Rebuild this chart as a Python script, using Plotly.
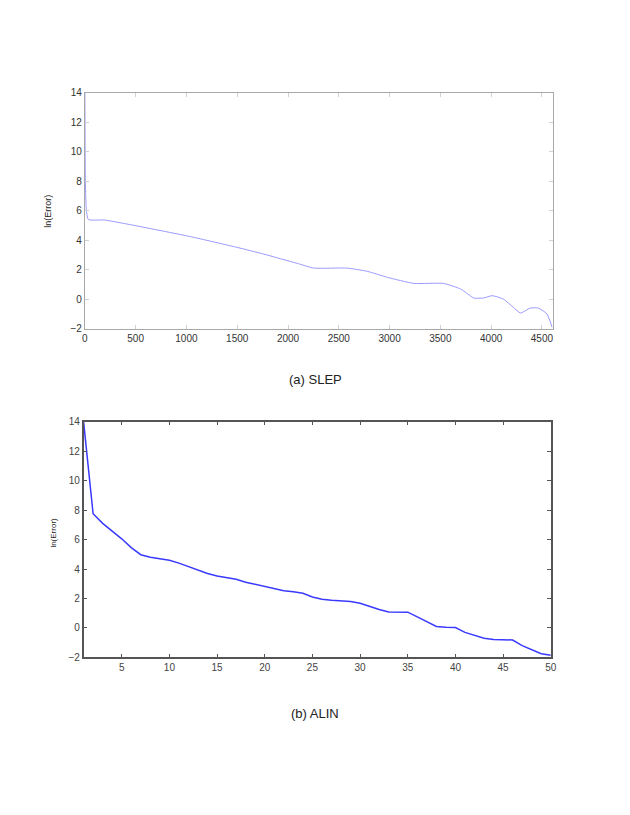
import plotly.graph_objects as go

# (a) SLEP: iteration vs ln(Error)
slep_iter = [0, 5, 15, 35, 190, 450, 1040, 1500, 1760, 2090, 2255, 2580, 2780,
             2980, 3240, 3530, 3700, 3830, 3925, 4010, 4120, 4220, 4290, 4385,
             4465, 4550, 4600]
slep_err = [14.0, 8.0, 6.0, 5.4, 5.37, 5.05, 4.24, 3.51, 3.06, 2.43, 2.11, 2.11,
            1.89, 1.48, 1.07, 1.07, 0.69, 0.08, 0.08, 0.24, 0.01, -0.56, -0.94,
            -0.6, -0.6, -1.0, -1.9]

# (b) ALIN: iteration vs ln(Error)
alin_iter = list(range(1, 51))
alin_err = [14.0, 7.75, 7.1, 6.6, 6.05, 5.45, 4.97, 4.8, 4.7, 4.6,
            4.4, 4.15, 3.9, 3.7, 3.52, 3.4, 3.3, 3.1, 2.95, 2.8,
            2.65, 2.53, 2.45, 2.35, 2.1, 1.95, 1.88, 1.83, 1.8, 1.67,
            1.45, 1.25, 1.08, 1.07, 1.07, 0.75, 0.4, 0.1, 0.05, 0.03,
            -0.3, -0.5, -0.7, -0.78, -0.8, -0.82, -1.2, -1.45, -1.75, -1.85]

W, H = 614, 799
font = "Liberation Sans, Arial, sans-serif"

# screen pixel -> figure pixel (page margin / scaling measured from a test render)
SX, AX = 0.987, 10.0
SY, AY = 0.985, 13.3


def fx(x):
    return (x - AX) / SX / W


def fy(y):
    return 1 - (y - AY) / SY / H


fig = go.Figure()
fig.add_trace(go.Scatter(x=slep_iter, y=slep_err, mode="lines",
                         line=dict(color="#9a9aff", width=1, shape="spline", smoothing=0.5),
                         xaxis="x", yaxis="y", showlegend=False))
fig.add_trace(go.Scatter(x=alin_iter, y=alin_err, mode="lines",
                         line=dict(color="#3a3aff", width=1.5),
                         xaxis="x2", yaxis="y2", showlegend=False))

top_ax = dict(showline=True, linecolor="#a8a8a8", linewidth=1, mirror="ticks",
              ticks="inside", ticklen=4, tickcolor="#d0d0d0", showgrid=False,
              zeroline=False, tickfont=dict(family=font, size=10, color="#333"))
bot_ax = dict(showline=True, linecolor="#555", linewidth=1.5, mirror="ticks",
              ticks="inside", ticklen=4, tickcolor="#555", showgrid=False,
              zeroline=False, tickfont=dict(family=font, size=10, color="#444"))


def label(text, x, y, size, angle=0):
    return dict(text=text, x=fx(x), y=fy(y), xref="paper", yref="paper",
                xanchor="center", yanchor="middle", textangle=angle,
                showarrow=False, font=dict(family=font, size=size, color="#222"))


fig.update_layout(
    width=W, height=H, margin=dict(l=0, r=0, t=0, b=0),
    paper_bgcolor="white", plot_bgcolor="white",
    xaxis=dict(top_ax, domain=[fx(84), fx(553)], range=[0, 4610],
               tickvals=[0, 500, 1000, 1500, 2000, 2500, 3000, 3500, 4000, 4500],
               anchor="y"),
    yaxis=dict(top_ax, domain=[fy(328), fy(92)], range=[-2, 14], dtick=2, anchor="x"),
    xaxis2=dict(bot_ax, domain=[fx(82.7), fx(550.7)], range=[1, 50],
                tickvals=[5, 10, 15, 20, 25, 30, 35, 40, 45, 50], anchor="y2"),
    yaxis2=dict(bot_ax, domain=[fy(656.7), fy(421)], range=[-2, 14], dtick=2, anchor="x2"),
    annotations=[
        label("ln(Error)", 47, 210, 9, -90),
        label("ln(Error)", 53, 532, 8, -90),
        label("(a) SLEP", 315, 379, 13),
        label("(b) ALIN", 315, 713, 13),
    ],
)

fig.write_html("out.html")
